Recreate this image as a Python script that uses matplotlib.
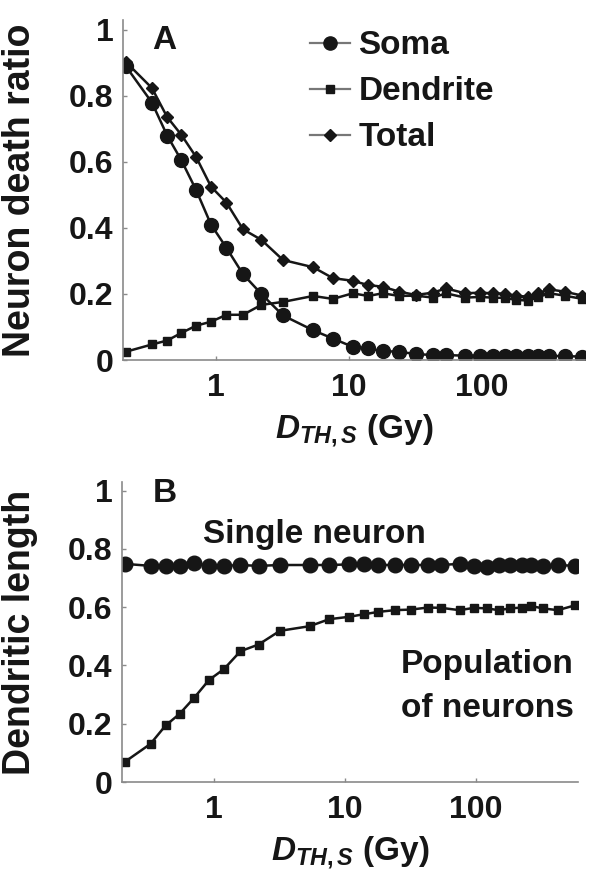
import matplotlib
matplotlib.use("Agg")
import matplotlib.pyplot as plt
from matplotlib.lines import Line2D

plt.rcParams['font.family'] = ['Liberation Sans', 'DejaVu Sans']
plt.rcParams['font.weight'] = 'bold'
plt.rcParams['mathtext.fontset'] = 'custom'
plt.rcParams['mathtext.it'] = 'Liberation Sans:italic:bold'
plt.rcParams['mathtext.rm'] = 'Liberation Sans:bold'
plt.rcParams['mathtext.bf'] = 'Liberation Sans:bold'

# ---- datos ----
dose = [0.21, 0.33, 0.43, 0.55, 0.71, 0.92, 1.2, 1.6, 2.2, 3.2, 5.4, 7.6, 10.7, 14, 18,
        24, 32, 43, 54, 75, 97, 121, 149, 183, 225, 264, 324, 421, 574]

soma = [0.89, 0.78, 0.68, 0.605, 0.515, 0.41, 0.34, 0.26, 0.20, 0.135, 0.09, 0.065, 0.04,
        0.035, 0.027, 0.025, 0.018, 0.015, 0.015, 0.013, 0.013, 0.013, 0.013, 0.012,
        0.012, 0.012, 0.012, 0.012, 0.01]
dendrite = [0.025, 0.047, 0.059, 0.082, 0.104, 0.116, 0.137, 0.137, 0.167, 0.176, 0.194,
            0.185, 0.202, 0.194, 0.202, 0.194, 0.195, 0.189, 0.202, 0.189, 0.191, 0.189,
            0.188, 0.182, 0.18, 0.19, 0.202, 0.195, 0.185]
total = [0.903, 0.824, 0.736, 0.682, 0.615, 0.525, 0.477, 0.396, 0.364, 0.303, 0.281,
         0.248, 0.240, 0.227, 0.222, 0.207, 0.197, 0.204, 0.217, 0.202, 0.204, 0.202,
         0.201, 0.194, 0.192, 0.202, 0.214, 0.207, 0.195]

single = [0.749, 0.742, 0.742, 0.742, 0.752, 0.742, 0.742, 0.745, 0.742, 0.745, 0.745,
          0.745, 0.747, 0.747, 0.745, 0.745, 0.745, 0.745, 0.745, 0.749, 0.742, 0.737,
          0.745, 0.745, 0.745, 0.745, 0.742, 0.745, 0.742]
population = [0.069, 0.131, 0.194, 0.234, 0.289, 0.35, 0.388, 0.449, 0.472, 0.519, 0.535,
              0.559, 0.567, 0.576, 0.584, 0.590, 0.592, 0.599, 0.598, 0.590, 0.598, 0.596,
              0.590, 0.596, 0.599, 0.604, 0.596, 0.590, 0.607]

xticks = [1, 10, 100]
xticklabels = ['1', '10', '100']
yticks = [0, 0.2, 0.4, 0.6, 0.8, 1.0]
yticklabels = ['0', '0.2', '0.4', '0.6', '0.8', '1']

INK = '#161616'
AXC = '#8a8a8a'

fig = plt.figure(figsize=(6, 8.91), dpi=100)
axA = fig.add_axes([123 / 600, 1 - 360 / 891, 462 / 600, 340 / 891])
axB = fig.add_axes([122 / 600, 1 - 782 / 891, 456 / 600, 300 / 891])


def estilo(ax, ylabel):
    ax.set_xscale('log')
    ax.set_xlim(0.2, 600)
    ax.set_ylim(0, 1.03)
    ax.set_xticks(xticks)
    ax.set_xticklabels(xticklabels)
    ax.minorticks_off()
    ax.set_yticks(yticks)
    ax.set_yticklabels(yticklabels)
    for s in ['top', 'right']:
        ax.spines[s].set_visible(False)
    for s in ['left', 'bottom']:
        ax.spines[s].set_color(AXC)
        ax.spines[s].set_linewidth(1.2)
    ax.tick_params(direction='in', length=3, width=1, color=AXC, labelsize=23,
                   labelcolor=INK)
    ax.tick_params(axis='y', pad=7)
    ax.tick_params(axis='x', pad=9)
    ax.set_ylabel(ylabel, fontsize=27, fontweight='bold', color=INK)
    ax.yaxis.set_label_coords(-0.185, 0.5)
    ax.set_xlabel(r'$D_{TH,S}$ (Gy)', fontsize=24, fontweight='bold', color=INK,
                  labelpad=7)


# ---- panel A ----
axA.plot(dose, soma, '-o', color=INK, lw=1.8, ms=10, mfc=INK, mec=INK)
axA.plot(dose, dendrite, '-s', color=INK, lw=1.8, ms=5.5, mfc=INK, mec=INK)
axA.plot(dose, total, '-D', color=INK, lw=1.8, ms=6.5, mfc=INK, mec=INK)
estilo(axA, 'Neuron death ratio')
axA.text(0.089, 0.941, 'A', transform=axA.transAxes, fontsize=24, fontweight='bold',
         ha='center', va='center', color=INK)

handles = [Line2D([], [], color='#777777', lw=1.6, marker=m, ms=s, mfc=INK, mec=INK)
           for m, s in [('o', 9.5), ('s', 5.5), ('D', 6.5)]]
axA.legend(handles, ['Soma', 'Dendrite', 'Total'], loc='upper left',
           bbox_to_anchor=(0.405, 0.97), frameon=False, fontsize=24,
           handlelength=1.2, handletextpad=0.25, labelspacing=0.45, borderpad=0,
           borderaxespad=0, labelcolor=INK)

# ---- panel B ----
axB.plot(dose, single, '-o', color=INK, lw=1.8, ms=10.5, mfc=INK, mec=INK)
axB.plot(dose, population, '-s', color=INK, lw=1.8, ms=6, mfc=INK, mec=INK)
estilo(axB, 'Dendritic length')
axB.text(0.094, 0.963, 'B', transform=axB.transAxes, fontsize=24, fontweight='bold',
         ha='center', va='center', color=INK)
axB.text(0.423, 0.797, 'Single neuron', transform=axB.transAxes, fontsize=24,
         fontweight='bold', ha='center', va='baseline', color=INK)
axB.text(0.991, 0.363, 'Population', transform=axB.transAxes, fontsize=24,
         fontweight='bold', ha='right', va='baseline', color=INK)
axB.text(0.991, 0.217, 'of neurons', transform=axB.transAxes, fontsize=24,
         fontweight='bold', ha='right', va='baseline', color=INK)

fig.savefig('out.png', dpi=100)
